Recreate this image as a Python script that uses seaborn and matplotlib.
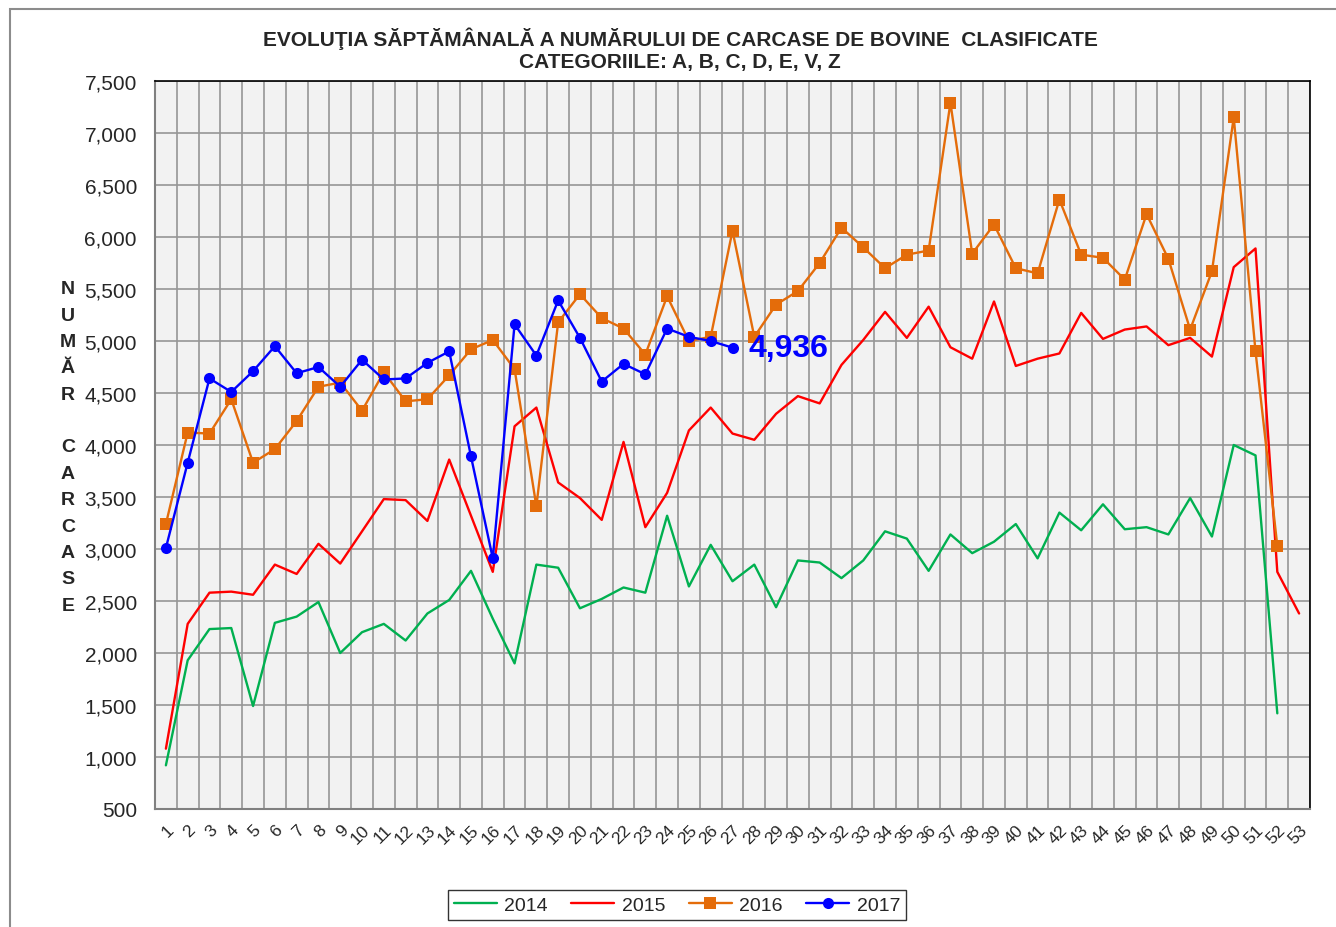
import pandas as pd
import matplotlib
matplotlib.use('Agg')
import matplotlib.pyplot as plt
from matplotlib.ticker import MultipleLocator, FixedLocator, FuncFormatter
from matplotlib.patches import Rectangle
import seaborn as sns

# week numbers on the category axis
weeks = list(range(1, 54))

# weekly number of classified bovine carcasses, per year
values_2014 = [920, 1930, 2230, 2240, 1490, 2290, 2350, 2490, 2000, 2200,
               2280, 2120, 2380, 2510, 2790, 2330, 1900, 2850, 2820, 2430,
               2520, 2630, 2580, 3320, 2640, 3040, 2690, 2850, 2440, 2890,
               2870, 2720, 2890, 3170, 3100, 2790, 3140, 2960, 3070, 3240,
               2910, 3350, 3180, 3430, 3190, 3210, 3140, 3490, 3120, 4000,
               3900, 1420]
values_2015 = [1080, 2280, 2580, 2590, 2560, 2850, 2760, 3050, 2860, 3170,
               3480, 3470, 3270, 3860, 3320, 2780, 4180, 4360, 3640, 3490,
               3280, 4030, 3210, 3540, 4140, 4360, 4110, 4050, 4300, 4470,
               4400, 4770, 5010, 5280, 5030, 5330, 4940, 4830, 5380, 4760,
               4830, 4880, 5270, 5020, 5110, 5140, 4960, 5030, 4850, 5710,
               5890, 2780, 2380]
values_2016 = [3240, 4120, 4110, 4440, 3830, 3960, 4230, 4560, 4600, 4330,
               4700, 4420, 4440, 4670, 4920, 5010, 4730, 3410, 5180, 5450,
               5220, 5120, 4870, 5430, 5000, 5040, 6060, 5040, 5350, 5480,
               5750, 6090, 5900, 5700, 5830, 5870, 7290, 5840, 6120, 5700,
               5650, 6360, 5830, 5800, 5590, 6220, 5790, 5110, 5670, 7150,
               4900, 3030]
values_2017 = [3010, 3830, 4640, 4510, 4710, 4950, 4690, 4750, 4560, 4820,
               4630, 4640, 4790, 4900, 3890, 2910, 5160, 4860, 5390, 5030,
               4610, 4780, 4680, 5120, 5040, 5000, 4936]

years = ['2014', '2015', '2016', '2017']
series = [values_2014, values_2015, values_2016, values_2017]
colors = ['#00B050', '#FF0000', '#E46C0A', '#0000FF']
markers = [None, None, 's', 'o']

title = ('EVOLUŢIA SĂPTĂMÂNALĂ A NUMĂRULUI DE CARCASE DE BOVINE  CLASIFICATE\n'
         'CATEGORIILE: A, B, C, D, E, V, Z')
y_label = 'N\nU\nM\nĂ\nR\n\nC\nA\nR\nC\nA\nS\nE'

# long table for seaborn
frames = []
for year, vals in zip(years, series):
    frames.append(pd.DataFrame({'week': weeks[:len(vals)], 'value': vals, 'year': year}))
df = pd.concat(frames, ignore_index=True)

sns.set_style('white')
plt.rcParams['font.family'] = ['Liberation Sans', 'DejaVu Sans']

fig = plt.figure(figsize=(13.36, 9.28), dpi=100)
ax = fig.add_axes([155 / 1336, 1 - 810 / 928, 1155 / 1336, 728 / 928])
ax.set_facecolor('#F2F2F2')

for year, color, marker in zip(years, colors, markers):
    sub = df[df['year'] == year]
    sns.lineplot(data=sub, x='week', y='value', ax=ax, color=color, marker=marker,
                 markersize=8.5 if marker == 's' else 8, markeredgewidth=0,
                 linewidth=1.7, label=year, zorder=3)

# last value of 2017
ax.annotate(f'{values_2017[-1]:,}', xy=(len(values_2017), values_2017[-1]),
            xytext=(16, 0), textcoords='offset pixels', ha='left', va='center',
            fontsize=23, fontweight='bold', color='#0000FF')

# axes, ticks and grid
ax.set_xlim(0.5, 53.5)
ax.set_ylim(500, 7500)
ax.set_xticks(weeks)
ax.set_xticklabels([str(w) for w in weeks], rotation=45, ha='right', va='top',
                   rotation_mode='anchor', fontsize=12.5)
ax.xaxis.set_minor_locator(FixedLocator([w + 0.5 for w in range(0, 54)]))
ax.yaxis.set_major_locator(MultipleLocator(500))
ax.yaxis.set_minor_locator(MultipleLocator(100))
ax.yaxis.set_major_formatter(FuncFormatter(lambda v, _: f'{v:,.0f}'))
ax.tick_params(axis='x', which='major', length=0, pad=9)
ax.tick_params(axis='x', which='minor', length=5, color='#808080', width=1.2, direction='out')
ax.tick_params(axis='y', which='major', length=6, color='#808080', width=1.2,
               direction='out', labelsize=15, pad=7)
ax.tick_params(axis='y', which='minor', length=3.5, color='#808080', width=1, direction='in')
ax.grid(False)
ax.grid(True, which='minor', axis='x', color='#969696', linewidth=1.2)
ax.grid(True, which='major', axis='y', color='#969696', linewidth=1.2)
ax.set_axisbelow(True)
ax.set_xlabel('')
ax.set_ylabel('')
for side in ['left', 'bottom']:
    ax.spines[side].set_color('#808080')
    ax.spines[side].set_linewidth(1.5)
for side in ['top', 'right']:
    ax.spines[side].set_color('black')
    ax.spines[side].set_linewidth(1.2)

# titles
fig.text(680 / 1336, 1 - 50 / 928, title, ha='center', va='center',
         fontsize=15, fontweight='bold', linespacing=1.2)
fig.text(68 / 1336, 1 - 448 / 928, y_label, ha='center', va='center',
         fontsize=14, fontweight='bold', linespacing=1.72)

# legend below the plot
ax.legend(loc='center', bbox_to_anchor=(677 / 1336, 1 - 906 / 928),
          bbox_transform=fig.transFigure, ncol=4, fontsize=14, frameon=True,
          fancybox=False, edgecolor='black', handlelength=2.2, columnspacing=1.2,
          borderpad=0.3, handletextpad=0.4)
ax.get_legend().get_frame().set_linewidth(1.0)

# outer chart border
fig.patches.append(Rectangle((10 / 1336, -0.1), 1.2, 1.1 - 10 / 928, transform=fig.transFigure,
                             fill=False, edgecolor='#8C8C8C', linewidth=1.5))

fig.savefig('out.png', dpi=100)
